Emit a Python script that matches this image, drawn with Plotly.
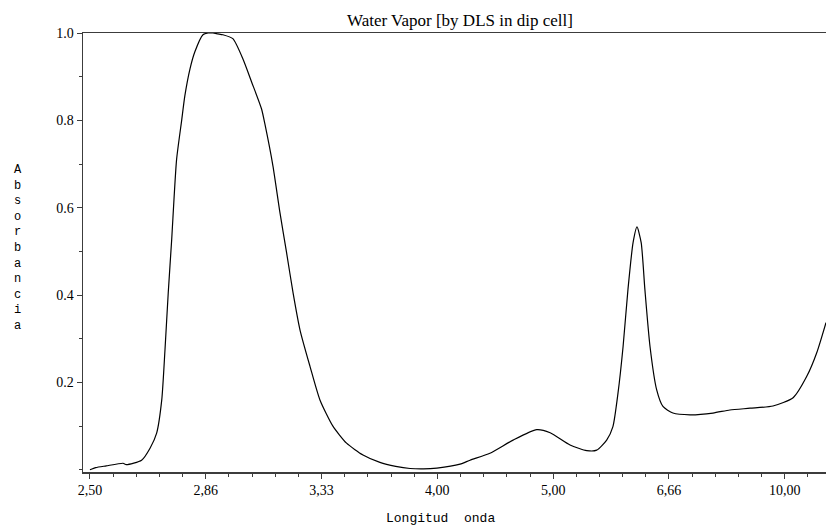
import plotly.graph_objects as go

wavenumber = [4000, 3975, 3930, 3857, 3843, 3777, 3740, 3712, 3690, 3676, 3662, 3647,
              3626, 3604, 3590, 3568, 3547, 3512, 3490, 3469, 3448, 3426, 3383, 3339,
              3302, 3259, 3244, 3210, 3180, 3151, 3123, 3093, 3050, 3007, 2951, 2892,
              2821, 2748, 2680, 2618, 2560, 2502, 2402, 2359, 2273, 2173, 2071, 2013,
              1927, 1855, 1812, 1769, 1742, 1720, 1698, 1677, 1655, 1638, 1620, 1604,
              1582, 1553, 1526, 1483, 1409, 1310, 1237, 1150, 1051, 964, 905, 862, 822]
absorbance = [0.000, 0.005, 0.009, 0.015, 0.012, 0.022, 0.050, 0.084, 0.160, 0.275, 0.405, 0.528,
              0.710, 0.800, 0.857, 0.918, 0.957, 0.996, 1.000, 1.000, 0.998, 0.996, 0.987, 0.940,
              0.888, 0.826, 0.790, 0.696, 0.590, 0.497, 0.405, 0.320, 0.237, 0.160, 0.100, 0.061,
              0.034, 0.017, 0.008, 0.003, 0.002, 0.004, 0.013, 0.022, 0.038, 0.068, 0.092, 0.085,
              0.057, 0.044, 0.045, 0.068, 0.099, 0.176, 0.283, 0.413, 0.520, 0.556, 0.520, 0.413,
              0.283, 0.183, 0.145, 0.130, 0.126, 0.130, 0.137, 0.141, 0.146, 0.165, 0.214, 0.268, 0.337]

# Axis ticks: positions in wavenumber, labels in wavelength (um)
x_tick_vals = [4000, 3500, 3000, 2500, 2000, 1500, 1000]
x_tick_text = ["2,50", "2,86", "3,33", "4,00", "5,00", "6,66", "10,00"]
y_tick_vals = [0.2, 0.4, 0.6, 0.8, 1.0]
y_tick_text = ["0.2", "0.4", "0.6", "0.8", "1.0"]

title_text = "Water Vapor [by DLS in dip cell]"
x_title = "Longitud\u00a0 onda"
y_title = "Absorbancia"

serif = "Liberation Serif, Times New Roman, serif"
mono = "Liberation Mono, Courier New, monospace"
axis_col = "#3c3c3c"

fig = go.Figure()
fig.add_trace(go.Scatter(
    x=wavenumber, y=absorbance, mode="lines",
    line=dict(color="#000000", width=1.2, shape="spline", smoothing=0.6),
    hoverinfo="skip", showlegend=False,
))

fig.update_layout(
    width=826, height=527,
    margin=dict(l=83, r=0, t=33, b=55),
    paper_bgcolor="white", plot_bgcolor="white",
    showlegend=False,
    font=dict(family=serif, size=14, color="#000000"),
)

fig.update_xaxes(
    range=[4030, 822], showgrid=False, zeroline=False,
    showline=True, linecolor=axis_col, linewidth=1.5, mirror=True,
    tickmode="array", tickvals=x_tick_vals, ticktext=x_tick_text,
    ticks="outside", ticklen=5, tickwidth=1, tickcolor=axis_col,
    tickfont=dict(family=serif, size=14, color="#000000"),
    minor=dict(dtick=100, tick0=0, ticks="outside", ticklen=3, tickwidth=1, tickcolor=axis_col),
)
fig.update_yaxes(
    range=[-0.005, 1.0], showgrid=False, zeroline=False,
    showline=True, linecolor=axis_col, linewidth=1.5, mirror=False,
    tickmode="array", tickvals=y_tick_vals, ticktext=y_tick_text,
    ticks="outside", ticklen=5, tickwidth=1, tickcolor=axis_col,
    tickfont=dict(family=serif, size=14, color="#000000"),
    minor=dict(dtick=0.1, tick0=0, ticks="outside", ticklen=3, tickwidth=1, tickcolor=axis_col),
)

fig.add_annotation(
    text=title_text, xref="paper", yref="paper", x=(460 - 83) / 743, y=1.0,
    yanchor="middle", yshift=13, showarrow=False,
    font=dict(family=serif, size=17, color="#000000"),
)
fig.add_annotation(
    text=x_title, xref="paper", yref="paper", x=(440 - 83) / 743, y=0,
    yanchor="middle", yshift=-46, showarrow=False,
    font=dict(family=mono, size=13, color="#000000"),
)
fig.add_annotation(
    text="<br>".join(list(y_title)), xref="paper", yref="paper",
    x=(18 - 83) / 743, y=(472 - 248) / 439, xanchor="center", yanchor="middle",
    showarrow=False,
    font=dict(family=mono, size=12, color="#000000"),
)

fig.write_html(
    "out.html",
    config={"displayModeBar": False, "staticPlot": True},
    post_script="document.body.style.margin='0';document.body.style.overflow='hidden';",
)
